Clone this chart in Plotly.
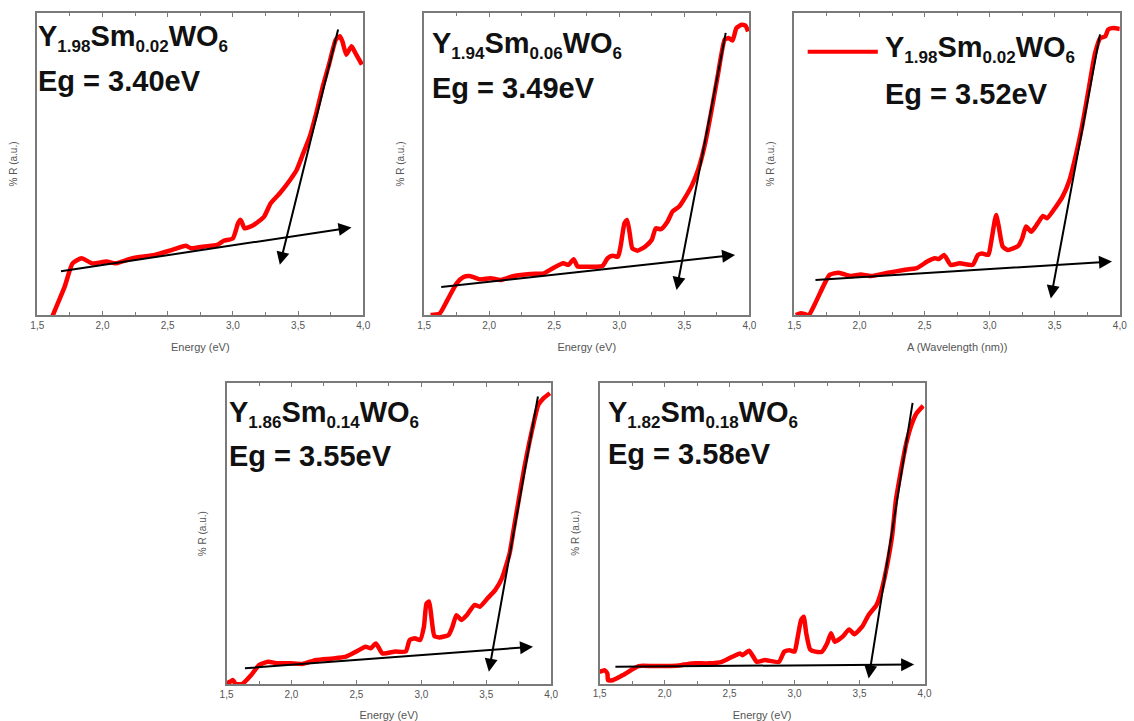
import plotly.graph_objects as go

# ---------------- data ----------------
energy_1 = [1.60, 1.62, 1.71, 1.77, 1.84, 1.92, 2.03, 2.10, 2.23, 2.40, 2.53, 2.64, 2.68, 2.78, 2.88, 2.93,
            3.00, 3.04, 3.06, 3.09, 3.16, 3.24, 3.29, 3.36, 3.44, 3.49, 3.54, 3.59, 3.64, 3.69, 3.74, 3.79,
            3.82, 3.84, 3.87, 3.91, 3.94, 3.99]
refl_1 = [-3, 0, 9.4, 17.1, 18.8, 17.1, 17.7, 17.1, 18.8, 19.9, 21.5, 22.9, 22.1, 22.7, 23.2, 24.6,
          25.4, 30.4, 31.5, 28.7, 29.8, 32.6, 37.0, 40.3, 44.8, 48.1, 53.6, 59.1, 66.9, 75.7, 83.4, 91.2,
          92.3, 90.6, 86.2, 89.0, 86.7, 82.9]

energy_2 = [1.55, 1.62, 1.68, 1.75, 1.80, 1.85, 1.93, 2.01, 2.09, 2.19, 2.32, 2.42, 2.49, 2.57, 2.61, 2.65,
            2.68, 2.72, 2.87, 2.91, 2.95, 2.99, 3.01, 3.04, 3.06, 3.08, 3.10, 3.14, 3.20, 3.25, 3.28, 3.32,
            3.37, 3.41, 3.46, 3.51, 3.56, 3.61, 3.66, 3.71, 3.76, 3.81, 3.84, 3.87, 3.90, 3.94, 3.97, 3.99]
refl_2 = [0, 0.5, 5, 10.5, 12.5, 12.9, 11.8, 12.2, 11.6, 12.9, 13.6, 13.8, 15.5, 17.1, 16.6, 18.5,
          16.0, 16.0, 16.2, 18.8, 19.6, 19.3, 22.7, 30.4, 31.5, 27.1, 22.1, 21.3, 22.7, 24.9, 28.7, 28.4,
          30.9, 34.3, 35.9, 39.2, 43.1, 48.6, 56.9, 68.0, 80.1, 91.2, 91.7, 90.9, 95.0, 96.1, 95.8, 93.9]

energy_3 = [1.51, 1.55, 1.61, 1.66, 1.72, 1.77, 1.84, 1.93, 2.01, 2.09, 2.22, 2.34, 2.44, 2.52, 2.58, 2.61,
            2.65, 2.70, 2.77, 2.87, 2.91, 2.94, 2.99, 3.01, 3.04, 3.05, 3.07, 3.10, 3.14, 3.22, 3.25, 3.28,
            3.32, 3.37, 3.41, 3.44, 3.51, 3.56, 3.61, 3.66, 3.71, 3.76, 3.81, 3.85, 3.89, 3.91, 3.95, 4.00]
refl_3 = [0, 0.6, 0, 3.9, 9.4, 13.3, 14.0, 12.9, 13.4, 12.9, 14.0, 14.9, 15.5, 17.7, 18.8, 18.5,
          19.9, 16.6, 17.1, 16.6, 19.9, 20.4, 19.9, 23.8, 31.5, 33.1, 29.3, 22.7, 21.5, 22.9, 25.4, 29.3,
          27.6, 30.4, 32.8, 32.0, 35.9, 39.2, 44.2, 52.5, 62.4, 74.6, 86.7, 91.7, 92.3, 94.5, 95.0, 94.7]

energy_4 = [1.50, 1.53, 1.55, 1.57, 1.62, 1.69, 1.75, 1.82, 1.89, 1.99, 2.09, 2.19, 2.32, 2.42, 2.50, 2.57,
            2.61, 2.65, 2.70, 2.80, 2.88, 2.91, 2.95, 2.99, 3.02, 3.04, 3.06, 3.08, 3.10, 3.14, 3.21, 3.24,
            3.27, 3.31, 3.35, 3.41, 3.45, 3.51, 3.57, 3.62, 3.68, 3.71, 3.75, 3.79, 3.83, 3.87, 3.90, 3.94, 3.99]
refl_4 = [0.2, 0.8, 1.3, 0, 0, 3.0, 6.3, 7.4, 6.9, 6.9, 6.7, 8.0, 8.5, 9.1, 10.8, 12.4,
          11.9, 13.5, 10.2, 10.8, 10.8, 14.6, 15.2, 14.6, 19.1, 26.8, 27.4, 21.3, 16.0, 15.5, 16.3, 19.1,
          22.9, 21.3, 22.9, 26.3, 25.7, 28.5, 31.3, 35.1, 43.5, 51.2, 61.2, 71.2, 80.0, 87.8, 92.8, 95.0, 96.7]

energy_5 = [1.50, 1.54, 1.56, 1.565, 1.60, 1.68, 1.74, 1.80, 1.91, 2.01, 2.11, 2.21, 2.34, 2.44, 2.52, 2.58,
            2.60, 2.65, 2.71, 2.77, 2.88, 2.92, 2.96, 3.00, 3.02, 3.05, 3.07, 3.09, 3.12, 3.16, 3.21, 3.25,
            3.28, 3.31, 3.37, 3.42, 3.46, 3.52, 3.57, 3.63, 3.67, 3.71, 3.75, 3.78, 3.82, 3.86, 3.90, 3.94, 3.99]
refl_5 = [3.9, 4.4, 3.3, 1.1, 1.1, 2.8, 4.4, 5.8, 5.8, 5.8, 6.0, 6.7, 6.7, 7.2, 8.9, 10.0,
          9.4, 10.9, 7.2, 7.8, 7.2, 10.6, 11.1, 10.6, 14.4, 21.1, 22.2, 16.7, 11.3, 10.6, 10.6, 13.3,
          16.7, 13.9, 15.6, 18.0, 16.4, 18.9, 22.8, 26.1, 31.1, 38.9, 48.9, 61.1, 71.1, 80.0, 86.1, 90.0, 92.4]

# tangent arrows: [x_tail, y_tail, x_head, y_head]
baseline_arrows = [
    [1.67, 14.4, 3.91, 29.0],
    [1.62, 9.2, 3.89, 19.9],
    [1.65, 11.6, 3.94, 17.7],
    [1.63, 5.2, 3.86, 12.4],
    [1.61, 5.6, 3.92, 6.3],
]
edge_arrows = [
    [3.81, 95.0, 3.36, 16.6],
    [3.82, 93.9, 3.44, 8.3],
    [3.85, 93.4, 3.47, 5.5],
    [3.90, 96.1, 3.52, 4.1],
    [3.91, 93.9, 3.57, 1.7],
]

# composition labels: (Y index, Sm index)
y_index = ["1.98", "1.94", "1.98", "1.86", "1.82"]
sm_index = ["0.02", "0.06", "0.02", "0.14", "0.18"]
eg_labels = ["Eg = 3.40eV", "Eg = 3.49eV", "Eg = 3.52eV", "Eg = 3.55eV", "Eg = 3.58eV"]
x_titles = ["Energy (eV)", "Energy (eV)", "A (Wavelength (nm))", "Energy (eV)", "Energy (eV)"]
y_title = "% R (a.u.)"
x_ticks = [1.5, 2.0, 2.5, 3.0, 3.5, 4.0]

energies = [energy_1, energy_2, energy_3, energy_4, energy_5]
refls = [refl_1, refl_2, refl_3, refl_4, refl_5]

# ---------------- layout geometry (pixels) ----------------
W, H = 1134, 721
# left, right, top, bottom of each plot area
boxes = [
    (30.7, 360.7, 13, 315),
    (422.3, 751.7, 13, 315),
    (797.3, 1126.7, 13, 315),
    (222.3, 551.0, 383.3, 684),
    (600.0, 929.0, 383.0, 683.5),
]
# text positions (annotation anchor): left x, center y of line 1 and line 2
text_pos = [
    (29, 38.3, 81),
    (428.7, 45.5, 88),
    (886.7, 49.5, 94),
    (223, 414, 456),
    (606, 414, 454),
]

def fx(px):
    return px / W

def fy(py):
    return 1 - py / H

def sub(s):
    return f"<sub><span style='font-size:17px'>{s}</span></sub>"

fig = go.Figure()
annotations = []
shapes = []
axis_grey = "#7a7a7a"
label_grey = "#555555"
FONT = "Liberation Sans, Arial"

for i in range(5):
    n = i + 1
    xa = "x" if n == 1 else f"x{n}"
    ya = "y" if n == 1 else f"y{n}"
    fig.add_trace(go.Scatter(x=energies[i], y=refls[i], mode="lines",
                             line=dict(color="#ff0000", width=4.5, shape="spline", smoothing=0.5),
                             xaxis=xa, yaxis=ya, showlegend=False))
    l, r, t, b = boxes[i]
    fig.update_layout({
        f"xaxis{'' if n == 1 else n}": dict(
            domain=[fx(l), fx(r)], anchor=ya, range=[1.5, 4.0],
            tickvals=x_ticks, tickformat=".1f", ticks="inside", ticklen=4,
            tickcolor=axis_grey, showline=True, linecolor=axis_grey, linewidth=1.5,
            mirror="ticks", showgrid=False, zeroline=False,
            minor=dict(dtick=0.25, tick0=1.5, ticks="inside", ticklen=3, tickcolor=axis_grey, showgrid=False),
            tickfont=dict(family=FONT, size=10, color=label_grey),
            title=dict(text=x_titles[i], standoff=14,
                       font=dict(family=FONT, size=11, color=label_grey)),
        ),
        f"yaxis{'' if n == 1 else n}": dict(
            domain=[fy(b), fy(t)], anchor=xa, range=[0, 100],
            showticklabels=False, ticks="", showline=True, linecolor=axis_grey, linewidth=1.5,
            mirror=True, showgrid=False, zeroline=False,
            title=dict(text=y_title, standoff=16,
                       font=dict(family=FONT, size=10, color=label_grey)),
        ),
    })
    for arr in (baseline_arrows[i], edge_arrows[i]):
        annotations.append(dict(
            x=arr[2], y=arr[3], ax=arr[0], ay=arr[1], xref=xa, yref=ya, axref=xa, ayref=ya,
            showarrow=True, arrowhead=2, arrowsize=1.3, arrowwidth=2, arrowcolor="#000000",
            standoff=0, startstandoff=0, text=""))
    tx, ty1, ty2 = text_pos[i]
    label = f"<b>Y{sub(y_index[i])}Sm{sub(sm_index[i])}WO{sub('6')}</b>"
    annotations.append(dict(x=fx(tx), y=fy(ty1), xref="paper", yref="paper", xanchor="left", yanchor="middle",
                            text=label, showarrow=False,
                            font=dict(family=FONT, size=29, color="#111111")))
    annotations.append(dict(x=fx(tx), y=fy(ty2), xref="paper", yref="paper", xanchor="left", yanchor="middle",
                            text=f"<b>{eg_labels[i]}</b>", showarrow=False,
                            font=dict(family=FONT, size=29, color="#111111")))

# legend sample line in panel 3
shapes.append(dict(type="line", xref="paper", yref="paper",
                   x0=fx(810.7), x1=fx(881.7), y0=fy(51.7), y1=fy(51.7),
                   line=dict(color="#ff0000", width=4)))

fig.update_layout(
    width=W, height=H, margin=dict(l=0, r=0, t=0, b=0),
    paper_bgcolor="white", plot_bgcolor="white",
    separators=",.", annotations=annotations, shapes=shapes, showlegend=False,
)

fig.write_html("out.html")
